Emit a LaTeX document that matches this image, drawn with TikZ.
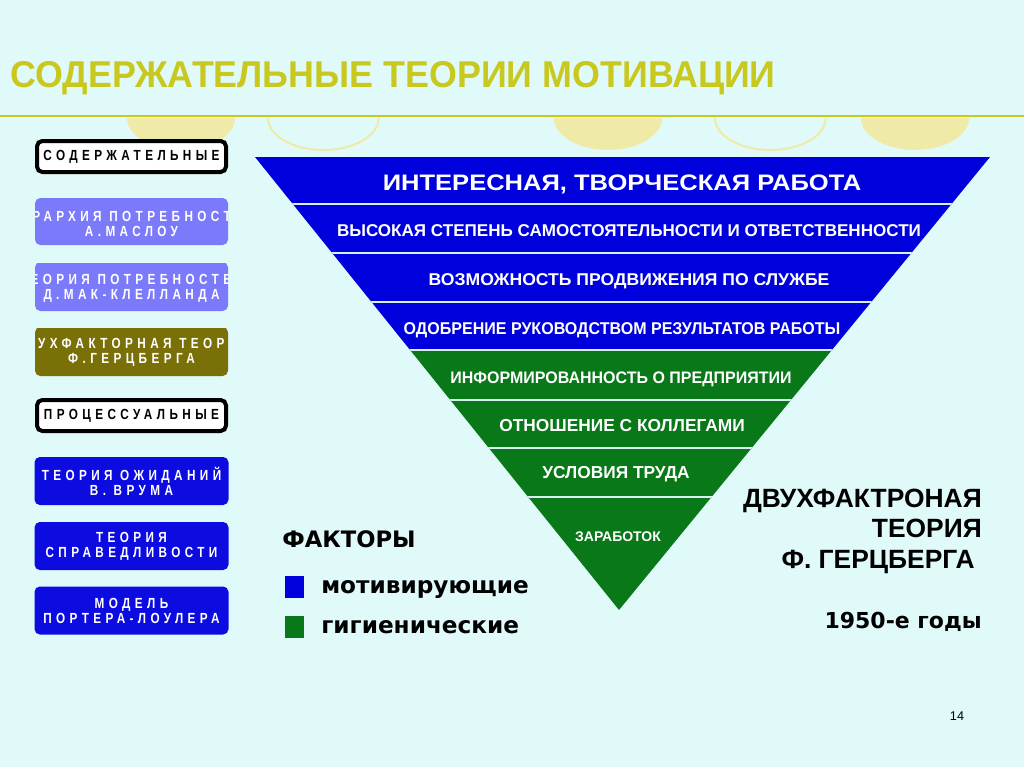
\documentclass[tikz,border=0pt]{standalone}
\usepackage{fontspec}
\setmainfont{Liberation Sans}
\newfontfamily\boxfont[LetterSpace=30,FakeStretch=0.8]{Liberation Sans}
\newfontfamily\heavyfont{DejaVu Sans}
\usetikzlibrary{positioning}

\definecolor{bgcyan}{RGB}{224,250,250}
\definecolor{titleolive}{RGB}{200,200,30}
\definecolor{bowlyellow}{RGB}{240,234,168}
\definecolor{factblue}{RGB}{0,0,220}
\definecolor{factgreen}{RGB}{8,120,24}
\definecolor{sepline}{RGB}{215,240,240}
\definecolor{lavender}{RGB}{122,122,250}
\definecolor{olivebox}{RGB}{122,112,8}
\definecolor{procblue}{RGB}{12,12,225}

\begin{document}
\begin{tikzpicture}[
    x=0.75pt, y=-0.75pt,
    every node/.style={inner sep=0pt, font=\bfseries},
    bandtext/.style={text=white, anchor=base},
    headbox/.style={draw=black, line width=3pt, fill=white, rounded corners=4pt,
        minimum width=141.75pt, minimum height=23.25pt,
        font={\boxfont\bfseries\fontsize{11}{11.25}\selectfont}},
    theorybox/.style={rounded corners=4pt, text=white, align=center,
        minimum width=145.5pt, minimum height=36pt,
        font={\boxfont\bfseries\fontsize{11}{11.25}\selectfont}},
    keysq/.style={minimum width=14.5pt, minimum height=16.5pt},
]
% ---- page ----
\fill[bgcyan] (0,0) rectangle (1024,767);
\useasboundingbox (0,0) rectangle (1024,767);

% ---- column x-coordinates ----
\def\xBox{131.5}   % left column of theory boxes
\def\xBoxL{35}     % left edge of boxes
\def\xBoxR{228}    % right edge of boxes
\def\xTL{255}      % triangle top left
\def\xTR{990}      % triangle top right
\def\xApex{619}    % triangle apex
\def\xMid{622}     % band labels
\def\xRight{982}   % right text block

% ---- row y-coordinates ----
\def\yRule{116}    % title rule
\def\yTop{157}     % triangle top
\def\ySplit{350}   % blue / green split
\def\yApex{610}    % triangle apex

% ---- title ----
\node[anchor=base west, text=titleolive, font=\bfseries\fontsize{28}{28}\selectfont\addfontfeature{FakeStretch=0.96}]
    (title) at (10,88) {СОДЕРЖАТЕЛЬНЫЕ ТЕОРИИ МОТИВАЦИИ};
\draw[titleolive, line width=2.2pt] (0,\yRule) -- (1024,\yRule);

% ---- bowls under the rule ----
\foreach \xb in {127,554,861}
  \fill[bowlyellow] (\xb,118) arc[start angle=180, end angle=360, x radius=40.5pt, y radius=24pt];
\foreach \xb in {268,715}
  \draw[bowlyellow, line width=1.5pt] (\xb,118) arc[start angle=180, end angle=360, x radius=41.5pt, y radius=24pt];

% ---- triangle of factors ----
\begin{scope}
  \clip (\xTL,\yTop) -- (\xTR,\yTop) -- (\xApex,\yApex) -- cycle;
  \fill[factblue] (\xTL,\yTop) rectangle (\xTR,\ySplit);
  \fill[factgreen] (\xTL,\ySplit) rectangle (\xTR,\yApex);
  \foreach \ysep in {204,253,302,350,400,448,497}
    \draw[sepline, line width=1.5pt] (\xTL,\ysep) -- (\xTR,\ysep);
\end{scope}

% ---- band labels ----
\node[bandtext, font=\bfseries\fontsize{16.8}{16.8}\selectfont\addfontfeature{FakeStretch=1.14}] (work) at (\xMid,190) {ИНТЕРЕСНАЯ, ТВОРЧЕСКАЯ РАБОТА};
\node[bandtext, font=\bfseries\fontsize{12.8}{12.8}\selectfont] (autonomy) at (629,236) {ВЫСОКАЯ СТЕПЕНЬ САМОСТОЯТЕЛЬНОСТИ И ОТВЕТСТВЕННОСТИ};
\node[bandtext, font=\bfseries\fontsize{12.8}{12.8}\selectfont\addfontfeature{FakeStretch=1.03}] (career) at (629,285) {ВОЗМОЖНОСТЬ ПРОДВИЖЕНИЯ ПО СЛУЖБЕ};
\node[bandtext, font=\bfseries\fontsize{12.8}{12.8}\selectfont\addfontfeature{FakeStretch=0.94}] (approval) at (\xMid,334) {ОДОБРЕНИЕ РУКОВОДСТВОМ РЕЗУЛЬТАТОВ РАБОТЫ};
\node[bandtext, font=\bfseries\fontsize{12.5}{12.5}\selectfont\addfontfeature{FakeStretch=0.96}] (inform) at (621,383) {ИНФОРМИРОВАННОСТЬ О ПРЕДПРИЯТИИ};
\node[bandtext, font=\bfseries\fontsize{13}{13}\selectfont] (mates) at (\xMid,431) {ОТНОШЕНИЕ С КОЛЛЕГАМИ};
\node[bandtext, font=\bfseries\fontsize{13}{13}\selectfont] (terms) at (616,478) {УСЛОВИЯ ТРУДА};
\node[bandtext, font=\bfseries\fontsize{10.5}{10.5}\selectfont] (salary) at (618,541) {ЗАРАБОТОК};

% ---- left column: content theories ----
\node[headbox] (content) at (\xBox,156.5) {СОДЕРЖАТЕЛЬНЫЕ};
\begin{scope}
  \clip[rounded corners=4pt] (\xBoxL,198) rectangle (\xBoxR,245);
  \node[theorybox, fill=lavender] (maslow) at (\xBox,222) {ИЕРАРХИЯ ПОТРЕБНОСТЕЙ\\А.МАСЛОУ};
\end{scope}
\begin{scope}
  \clip[rounded corners=4pt] (\xBoxL,262) rectangle (\xBoxR,311);
  \node[theorybox, fill=lavender] (mcclel) at (\xBox,287) {ТЕОРИЯ ПОТРЕБНОСТЕЙ\\Д.МАК-КЛЕЛЛАНДА};
\end{scope}
\begin{scope}
  \clip[rounded corners=4pt] (\xBoxL,327) rectangle (\xBoxR,376);
  \node[theorybox, fill=olivebox] (herzbox) at (\xBox,352) {ДВУХФАКТОРНАЯ ТЕОРИЯ\\Ф.ГЕРЦБЕРГА};
\end{scope}

% ---- left column: process theories ----
\node[headbox] (process) at (\xBox,415.5) {ПРОЦЕССУАЛЬНЫЕ};
\node[theorybox, fill=procblue] (vroom) at (\xBox,481) {ТЕОРИЯ ОЖИДАНИЙ\\В. ВРУМА};
\node[theorybox, fill=procblue] (equity) at (\xBox,546) {ТЕОРИЯ\\СПРАВЕДЛИВОСТИ};
\node[theorybox, fill=procblue] (porter) at (\xBox,610.5) {МОДЕЛЬ\\ПОРТЕРА-ЛОУЛЕРА};

% ---- legend ----
\node[anchor=base west, font=\heavyfont\bfseries\fontsize{17}{17}\selectfont] (factors) at (282,547) {ФАКТОРЫ};
\node[keysq, fill=factblue] (keyblue) at (294.5,587) {};
\node[keysq, fill=factgreen] (keygreen) at (294.5,627) {};
\node[anchor=base west, font=\heavyfont\bfseries\fontsize{17.4}{17.4}\selectfont] (motiv) at (321,593) {мотивирующие};
\node[anchor=base west, font=\heavyfont\bfseries\fontsize{17.4}{17.4}\selectfont] (hygiene) at (321,633) {гигиенические};

% ---- right text block ----
\node[anchor=base east, font=\bfseries\fontsize{19.8}{19.8}\selectfont] (herz1) at (\xRight,507) {ДВУХФАКТРОНАЯ};
\node[anchor=base east, font=\bfseries\fontsize{19.8}{19.8}\selectfont] (herz2) at (\xRight,537) {ТЕОРИЯ};
\node[anchor=base east, font=\bfseries\fontsize{19.8}{19.8}\selectfont] (herz3) at (975,568) {Ф. ГЕРЦБЕРГА};
\node[anchor=base east, font=\heavyfont\bfseries\fontsize{16.5}{16.5}\selectfont] (years) at (\xRight,628) {1950-е годы};

% ---- page number ----
\node[anchor=base, font=\mdseries\fontsize{9.5}{9.5}\selectfont] (pagenum) at (957,720) {14};
\end{tikzpicture}
\end{document}
